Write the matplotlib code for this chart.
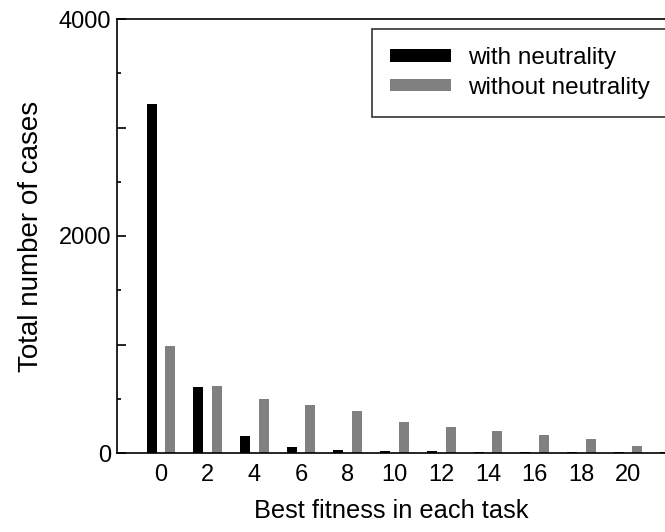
import numpy as np
import matplotlib
matplotlib.use("Agg")
from matplotlib import pyplot as plt
from matplotlib.ticker import MultipleLocator, FuncFormatter

plt.rcParams['font.family'] = ['Liberation Sans', 'DejaVu Sans']

# best fitness values (x) and number of cases
fit_with = [0, 2, 4, 6, 8, 10, 12, 14, 16, 18, 20, 22]
cases_with = [3220, 605, 157, 52, 28, 20, 15, 12, 12, 12, 12, 10]
fit_without = [0, 2, 4, 6, 8, 10, 12, 14, 16, 18, 20]
cases_without = [985, 618, 498, 440, 384, 286, 242, 199, 169, 126, 67]

fig = plt.figure(figsize=(6.65, 5.32), dpi=100)
ax = fig.add_axes([117/665, 1 - 453/532, 1 - 117/665, (453 - 19)/532])

w = 0.43
ax.bar(np.array(fit_with) - 0.4, cases_with, width=w, color='black', label='with neutrality')
ax.bar(np.array(fit_without) + 0.4, cases_without, width=w, color='#808080', label='without neutrality')

ax.set_xlim(-1.88, 21.58)
ax.set_ylim(0, 4000)
ax.set_xticks(range(0, 21, 2))
ax.yaxis.set_major_locator(MultipleLocator(1000))
ax.yaxis.set_minor_locator(MultipleLocator(500))
# only every second major tick gets a label
ax.yaxis.set_major_formatter(FuncFormatter(lambda v, p: f"{int(v)}" if int(v) % 2000 == 0 else ""))
ax.tick_params(axis='x', length=0, pad=8, labelsize=17)
ax.tick_params(axis='y', which='major', direction='in', length=6.2, width=1.2, pad=4, labelsize=17)
ax.tick_params(axis='y', which='minor', direction='in', length=3, width=1.2)
ax.spines['right'].set_visible(False)
for s in ['left', 'top', 'bottom']:
    ax.spines[s].set_linewidth(1.2)

ax.set_xlabel('Best fitness in each task', fontsize=18.3, labelpad=9)
ax.set_ylabel('Total number of cases', fontsize=20, labelpad=11)

leg = ax.legend(loc='upper left', bbox_to_anchor=(372/665, 1 - 29/532), bbox_transform=fig.transFigure,
                fontsize=17.5, frameon=True, fancybox=False, borderaxespad=0, borderpad=0.75,
                handlelength=2.5, handleheight=0.42, handletextpad=0.7, labelspacing=0.3)
leg.get_frame().set_edgecolor('black')
leg.get_frame().set_linewidth(1.2)

fig.savefig('out.png', dpi=100)
